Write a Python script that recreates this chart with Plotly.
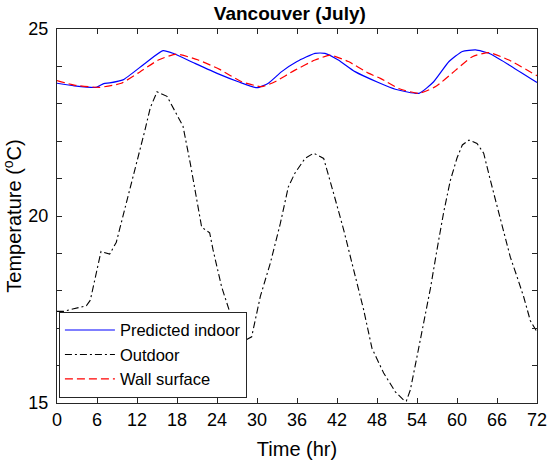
import plotly.graph_objects as go

# values (hours, deg C)
t_indoor = [0, 2.6, 5.9, 7.0, 7.9, 9.9, 13.2, 15.9, 17.4, 20.7, 24.2, 27.2, 30.0, 31.7,
            33.7, 36.0, 38.7, 40.2, 42.2, 44.7, 48.2, 50.75, 54.3, 56.5, 58.8, 60.8,
            62.8, 64.8, 67.8, 72]
indoor = [23.55, 23.48, 23.44, 23.54, 23.56, 23.64, 24.08, 24.42, 24.35, 24.08, 23.8,
          23.59, 23.43, 23.55, 23.86, 24.13, 24.35, 24.35, 24.17, 23.86, 23.57, 23.39,
          23.28, 23.59, 24.13, 24.4, 24.44, 24.35, 24.04, 23.57]

t_out = [0, 1, 2.5, 4.4, 5, 6.6, 7.9, 8.9, 10.4, 11.65, 13.2, 14, 15, 16.5, 17.4, 18.9,
         20.0, 21.0, 21.7, 22.9, 23.4, 24.7, 26.4, 28.0, 29.2, 30.5, 32.0, 33.5, 34.7,
         35.7, 37.2, 38.5, 40.0, 41.5, 43.0, 44.5, 46.0, 47.25, 49.0, 50.75, 52.0, 52.4,
         53.0, 54.0, 55.0, 56.0, 57.0, 58.0, 59.0, 60.0, 60.8, 61.8, 63.0, 64.0, 65.0,
         66.0, 67.0, 68.0, 69.0, 70.0, 71.0, 72.0]
outdoor = [17.45, 17.45, 17.52, 17.6, 17.75, 19.05, 18.98, 19.3, 20.35, 21.2, 22.3, 22.9,
           23.32, 23.2, 22.9, 22.4, 21.4, 20.4, 19.7, 19.55, 19.1, 18.1, 17.17, 16.65,
           16.77, 17.85, 18.74, 19.8, 20.78, 21.15, 21.54, 21.68, 21.54, 20.6, 19.63,
           18.56, 17.49, 16.46, 15.8, 15.3, 15.08, 15.05, 15.35, 16.24, 17.13, 18.05,
           19.1, 20.1, 20.95, 21.55, 21.9, 22.03, 21.94, 21.68, 20.96, 20.25, 19.54,
           18.9, 18.38, 17.84, 17.2, 16.9]

t_wall = [0, 2.6, 6.4, 9.65, 12.15, 15.2, 17.9, 21.2, 24.4, 27.7, 30.7, 32.7, 35.7, 38.7,
          41.0, 43.7, 46.7, 48.5, 51.25, 54.25, 56.8, 59.8, 62.3, 64.8, 67.8, 72]
wall = [23.62, 23.5, 23.44, 23.55, 23.82, 24.17, 24.33, 24.17, 23.92, 23.59, 23.46,
        23.59, 23.9, 24.17, 24.3, 24.13, 23.82, 23.68, 23.41, 23.28, 23.46, 23.9, 24.26,
        24.37, 24.17, 23.75]

x_ticks = list(range(0, 73, 6))
y_ticks = list(range(15, 26))
y_labels = ["15", "", "", "", "", "20", "", "", "", "", "25"]

fig = go.Figure()
fig.add_trace(go.Scatter(x=t_indoor, y=indoor, mode="lines", name="Predicted indoor",
                         line=dict(color="#0000ff", width=1.2, shape="spline", smoothing=0.5)))
fig.add_trace(go.Scatter(x=t_out, y=outdoor, mode="lines", name="Outdoor",
                         line=dict(color="black", width=1.1, dash="7px,3px,2px,3px")))
fig.add_trace(go.Scatter(x=t_wall, y=wall, mode="lines", name="Wall surface",
                         line=dict(color="#ff0000", width=1.2, dash="8px,4px",
                                   shape="spline", smoothing=0.5)))

axis_col = "#262626"
fig.update_layout(
    width=550, height=462,
    margin=dict(l=57, r=13, t=29, b=59),
    paper_bgcolor="white", plot_bgcolor="white",
    font=dict(family="Liberation Sans, Arial", size=18, color="black"),
    title=dict(text="<b>Vancouver (July)</b>", x=0.527, xanchor="center",
               y=0.972, yanchor="middle", font=dict(size=19)),
    showlegend=True,
    legend=dict(x=0.004, y=0.014, xanchor="left", yanchor="bottom",
                bgcolor="white", bordercolor=axis_col, borderwidth=1,
                font=dict(size=16.5), tracegroupgap=0, itemwidth=50),
)
fig.update_xaxes(range=[0, 72], tickvals=x_ticks, ticks="inside", ticklen=5,
                 tickcolor=axis_col, showline=True, linecolor=axis_col, linewidth=1,
                 mirror="ticks", showgrid=False, zeroline=False, automargin=False,
                 title=dict(text="Time (hr)", font=dict(size=20), standoff=13))
fig.update_yaxes(range=[15, 25], tickvals=y_ticks, ticktext=y_labels, ticks="inside",
                 ticklen=5, tickcolor=axis_col, showline=True, linecolor=axis_col,
                 linewidth=1, mirror="ticks", showgrid=False, zeroline=False,
                 ticklabelstandoff=4, automargin=False,
                 title=dict(text="Temperature (<sup>o</sup>C)", font=dict(size=20),
                            standoff=5))

# drop the browser's default body margin so the figure sits at the page corner
fig.write_html("out.html", config={"displayModeBar": False},
               post_script="document.body.style.margin='0';")
